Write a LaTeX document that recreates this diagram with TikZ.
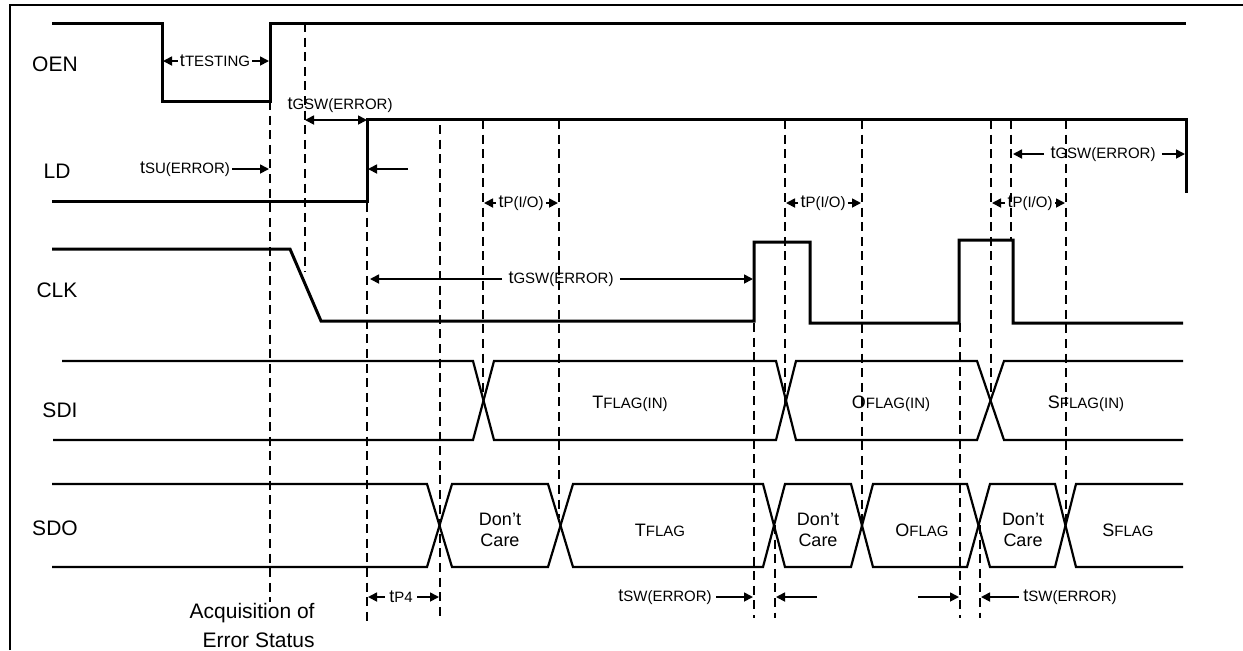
\documentclass[tikz,border=0pt]{standalone}
\usepackage{fontspec}
\setmainfont{Liberation Sans}
\usetikzlibrary{arrows.meta}

\newcommand{\sm}[1]{{\fontsize{7.5}{9}\selectfont #1}}

\begin{document}
\begin{tikzpicture}[x=0.5pt, y=-0.5pt,
    sig/.style={line width=1.5pt},
    bus/.style={line width=1.1pt},
    guide/.style={line width=1pt, dash pattern=on 4.5pt off 2.8pt},
    dimarr/.style={line width=0.85pt, -{Triangle[length=4.5pt, width=4.5pt]}},
    ddimarr/.style={line width=0.85pt, {Triangle[length=4.5pt, width=4.5pt]}-{Triangle[length=4.5pt, width=4.5pt]}},
    signame/.style={font=\fontsize{10.5}{12}\selectfont, inner sep=0pt},
    lbl/.style={font=\fontsize{9}{10.5}\selectfont, inner sep=1pt, align=center}]

      \useasboundingbox (0,0) rectangle (1243,650);
      \draw[line width=1pt] (10,650) -- (10,5) -- (1243,5);

      \node[signame] (oen) at (55,64) {OEN};
      \node[signame] (ld) at (57,171) {LD};
      \node[signame] (clk) at (57,290) {CLK};
      \node[signame] (sdi) at (60,410) {SDI};
      \node[signame] (sdo) at (55,528) {SDO};

      % waveforms
      \draw[sig] (52,23) -- (162,23) -- (162,101) -- (270,101) -- (270,23) -- (1186,23);
      \draw[sig] (52,201) -- (367,201) -- (367,119) -- (1186,119) -- (1186,193);
      \draw[sig] (52,249) -- (290,249) -- (321,321) -- (754,321) -- (754,242) -- (810,242) -- (810,323)
                 -- (959,323) -- (959,240) -- (1013,240) -- (1013,323) -- (1183,323);
      \draw[bus] (62,361) -- (473,361) -- (494,440) -- (776,440) -- (796,361) -- (977,361) -- (1004,440) -- (1183,440);
      \draw[bus] (53,440) -- (473,440) -- (494,361) -- (776,361) -- (796,440) -- (977,440) -- (1004,361) -- (1183,361);
      \draw[bus] (52,484) -- (427,484) -- (452,567) -- (548,567) -- (573,484) -- (763,484) -- (785,567) -- (851,567)
                 -- (873,484) -- (967,484) -- (990,567) -- (1055,567) -- (1076,484) -- (1183,484);
      \draw[bus] (52,567) -- (427,567) -- (452,484) -- (548,484) -- (573,567) -- (763,567) -- (785,484) -- (851,484)
                 -- (873,567) -- (967,567) -- (990,484) -- (1055,484) -- (1076,567) -- (1183,567);

      % time marks
      \draw[guide] (270,101) -- (270,602);
      \draw[guide] (305,23) -- (305,272);
      \draw[guide] (367,203) -- (367,623);
      \draw[guide] (440,125) -- (440,618);
      \draw[guide] (483,120) -- (483,400);
      \draw[guide] (559,120) -- (559,518);
      \draw[guide] (754,323) -- (754,618);
      \draw[guide] (775,525) -- (775,618);
      \draw[guide] (785,120) -- (785,405);
      \draw[guide] (862,120) -- (862,527);
      \draw[guide] (960,323) -- (960,618);
      \draw[guide] (980,525) -- (980,618);
      \draw[guide] (991,120) -- (991,400);
      \draw[guide] (1011,120) -- (1011,240);
      \draw[guide] (1066,120) -- (1066,522);

      % end points of the timing arrows
      \coordinate (testL) at (163,61);
      \coordinate (testR) at (269,61);
      \coordinate (gswA) at (305,120);
      \coordinate (gswB) at (367,120);
      \coordinate (suR) at (269,169);
      \coordinate (ldS) at (408,169);
      \coordinate (ldE) at (368,169);
      \coordinate (gswL) at (370,279);
      \coordinate (gswR) at (753,279);
      \coordinate (pioAL) at (484,203);
      \coordinate (pioAR) at (558,203);
      \coordinate (pioBL) at (786,203);
      \coordinate (pioBR) at (861,203);
      \coordinate (pioCL) at (992,203);
      \coordinate (pioCR) at (1065,203);
      \coordinate (gswEL) at (1013,154);
      \coordinate (gswER) at (1185,154);
      \coordinate (ptL) at (368,597);
      \coordinate (ptR) at (439,597);
      \coordinate (swAR) at (753,597);
      \coordinate (swBS) at (817,597);
      \coordinate (swBE) at (776,597);
      \coordinate (swCS) at (918,597);
      \coordinate (swCE) at (959,597);
      \coordinate (swDL) at (981,597);

      \node[lbl] (ttest) at (215,61) {t\sm{TESTING}};
      \draw[dimarr] (ttest.west) -- (testL);
      \draw[dimarr] (ttest.east) -- (testR);

      \node[lbl] (tgswa) at (340,105) {t\sm{GSW(ERROR)}};
      \draw[ddimarr] (gswA) -- (gswB);

      \node[lbl] (tsu) at (185,169) {t\sm{SU(ERROR)}};
      \draw[dimarr] (tsu.east) -- (suR);
      \draw[dimarr] (ldS) -- (ldE);

      \node[lbl, inner sep=3pt] (tgswb) at (561,279) {t\sm{GSW(ERROR)}};
      \draw[dimarr] (tgswb.west) -- (gswL);
      \draw[dimarr] (tgswb.east) -- (gswR);

      \node[lbl] (tpioa) at (521,203) {t\sm{P(I/O)}};
      \draw[dimarr] (tpioa.west) -- (pioAL);
      \draw[dimarr] (tpioa.east) -- (pioAR);
      \node[lbl] (tpiob) at (823,203) {t\sm{P(I/O)}};
      \draw[dimarr] (tpiob.west) -- (pioBL);
      \draw[dimarr] (tpiob.east) -- (pioBR);
      \node[lbl] (tpioc) at (1030,203) {t\sm{P(I/O)}};
      \draw[dimarr] (tpioc.west) -- (pioCL);
      \draw[dimarr] (tpioc.east) -- (pioCR);

      \node[lbl, inner sep=3pt] (tgswc) at (1103,154) {t\sm{GSW(ERROR)}};
      \draw[dimarr] (tgswc.west) -- (gswEL);
      \draw[dimarr] (tgswc.east) -- (gswER);

      \node[lbl, inner sep=2pt] (tp4) at (401,597) {t\sm{P4}};
      \draw[dimarr] (tp4.west) -- (ptL);
      \draw[dimarr] (tp4.east) -- (ptR);

      \node[lbl, inner sep=2pt] (tswa) at (665,597) {t\sm{SW(ERROR)}};
      \draw[dimarr] (tswa.east) -- (swAR);
      \draw[dimarr] (swBS) -- (swBE);
      \draw[dimarr] (swCS) -- (swCE);
      \node[lbl, inner sep=2pt] (tswb) at (1070,597) {t\sm{SW(ERROR)}};
      \draw[dimarr] (tswb.west) -- (swDL);

      \node[signame, align=right, anchor=east, font=\fontsize{10.5}{14.5}\selectfont] (acq) at (315,625) {Acquisition of\\Error Status};

      % bus contents
      \node[lbl] (tin) at (630,404) {T\sm{FLAG(IN)}};
      \node[lbl] (oin) at (891,404) {O\sm{FLAG(IN)}};
      \node[lbl] (sin) at (1086,404) {S\sm{FLAG(IN)}};
      \node[lbl] (dca) at (500,530) {Don’t\\Care};
      \node[lbl] (tout) at (660,530) {T\sm{FLAG}};
      \node[lbl] (dcb) at (818,530) {Don’t\\Care};
      \node[lbl] (oout) at (922,530) {O\sm{FLAG}};
      \node[lbl] (dcc) at (1023,530) {Don’t\\Care};
      \node[lbl] (sout) at (1128,530) {S\sm{FLAG}};
\end{tikzpicture}
\end{document}
